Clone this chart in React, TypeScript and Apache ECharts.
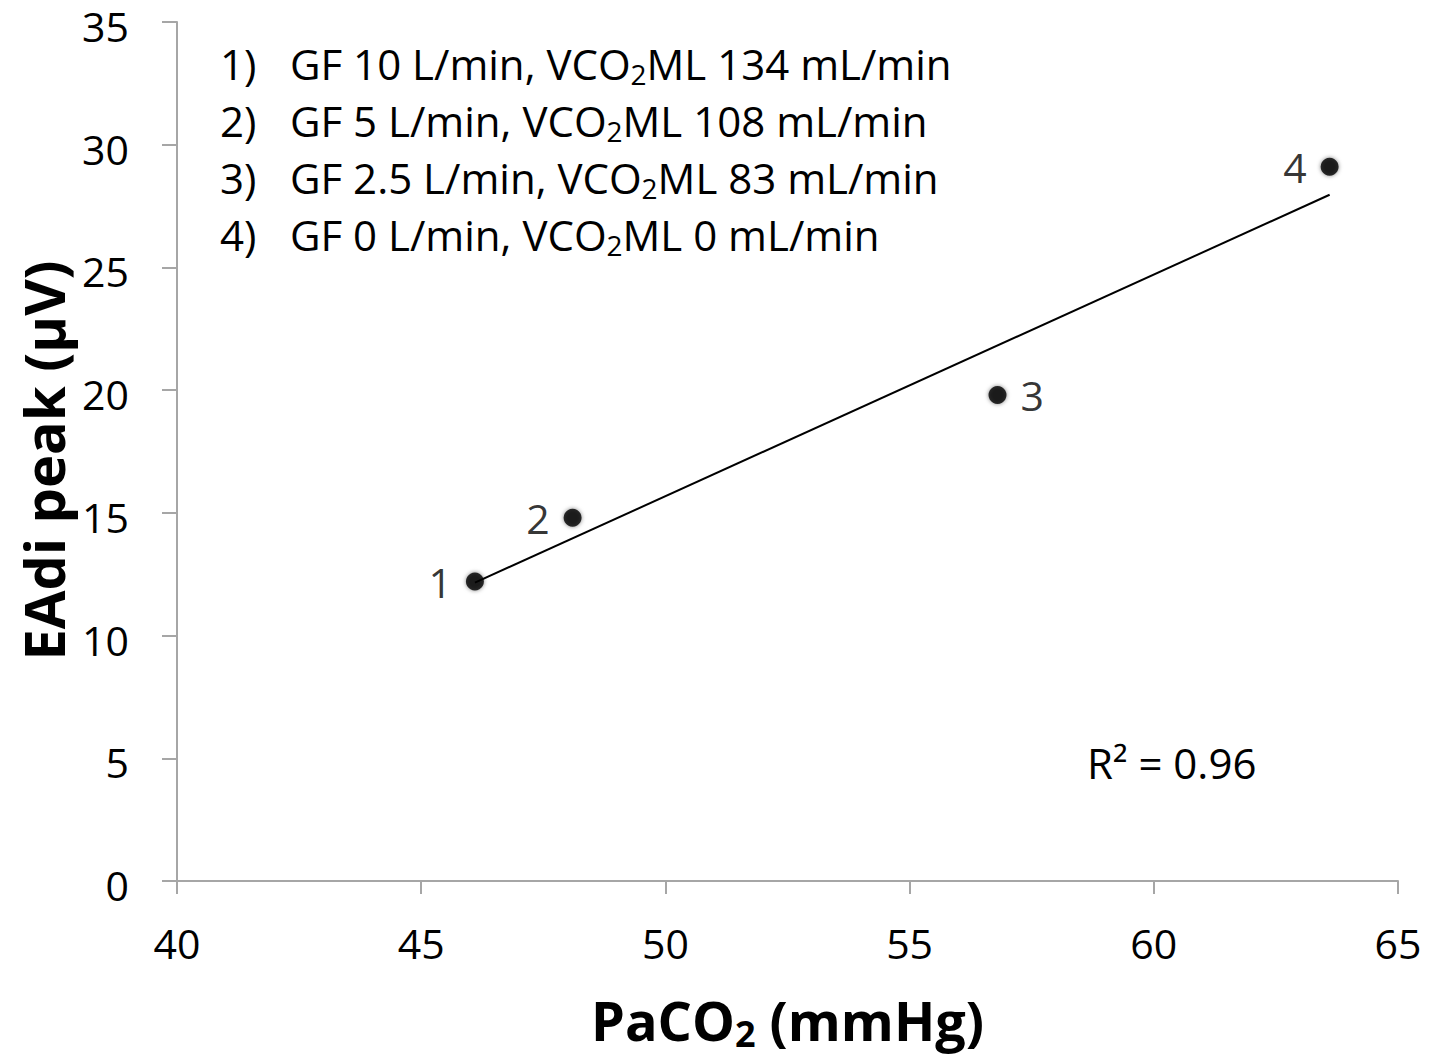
import React, { useEffect, useRef } from "react";
import * as echarts from "echarts";

const xValues = [46.1, 48.1, 56.8, 63.6];
const yValues = [12.2, 14.8, 19.8, 29.1];
const pointLabels = ["1", "2", "3", "4"];
const labelSides = ["left", "left", "right", "left"];
const legendNumbers = ["1)", "2)", "3)", "4)"];
const legendTexts = [
  "GF 10 L/min, VCO{sub|2}ML 134 mL/min",
  "GF 5 L/min, VCO{sub|2}ML 108 mL/min",
  "GF 2.5 L/min, VCO{sub|2}ML 83 mL/min",
  "GF 0 L/min, VCO{sub|2}ML 0 mL/min",
];
const r2Text = "R² = 0.96";
const xTicks = { min: 40, max: 65, interval: 5 };
const yTicks = { min: 0, max: 35, interval: 5 };

const FONT = "'Open Sans', sans-serif";

function linearFit(xs: number[], ys: number[]) {
  const n = xs.length;
  const mx = xs.reduce((a, b) => a + b, 0) / n;
  const my = ys.reduce((a, b) => a + b, 0) / n;
  let sxy = 0, sxx = 0;
  for (let i = 0; i < n; i++) {
    sxy += (xs[i] - mx) * (ys[i] - my);
    sxx += (xs[i] - mx) * (xs[i] - mx);
  }
  const slope = sxy / sxx;
  return { slope, intercept: my - slope * mx };
}

export default function App() {
  const ref = useRef<HTMLDivElement>(null);
  useEffect(() => {
    if (!ref.current) return;
    const chart = echarts.init(ref.current, null, { renderer: "svg" });
    const fit = linearFit(xValues, yValues);
    const xMin = Math.min(...xValues);
    const xMax = Math.max(...xValues);
    const trend = [
      [xMin, fit.intercept + fit.slope * xMin],
      [xMax, fit.intercept + fit.slope * xMax],
    ];
    const axisColor = "#a6a6a6";
    const legendGraphics: any[] = [];
    legendNumbers.forEach((num, i) => {
      const cy = 63 + i * 57;
      legendGraphics.push({
        type: "text",
        x: 220,
        y: cy,
        style: {
          text: num,
          font: `42px ${FONT}`,
          fill: "#000",
          verticalAlign: "middle",
        },
      });
      legendGraphics.push({
        type: "text",
        x: 290,
        y: cy,
        style: {
          text: legendTexts[i],
          font: `42px ${FONT}`,
          fill: "#000",
          verticalAlign: "middle",
          rich: {
            sub: { fontSize: 28, fontFamily: FONT, padding: [22, 0, 0, 0] },
          },
        },
      });
    });
    const option: any = {
      animation: false,
      backgroundColor: "#fff",
      grid: { left: 177, right: 31, top: 22, bottom: 176 },
      xAxis: {
        type: "value",
        min: xTicks.min,
        max: xTicks.max,
        interval: xTicks.interval,
        splitLine: { show: false },
        axisLine: { show: true, lineStyle: { color: axisColor, width: 2 } },
        axisTick: { show: true, length: 13, lineStyle: { color: axisColor, width: 2 } },
        axisLabel: { margin: 41, fontFamily: FONT, fontSize: 41, color: "#000" },
        name: "PaCO{sub|2} (mmHg)",
        nameLocation: "middle",
        nameGap: 108,
        nameTextStyle: {
          fontFamily: FONT,
          fontWeight: "bold",
          fontSize: 54,
          color: "#000",
          rich: {
            sub: { fontFamily: FONT, fontWeight: "bold", fontSize: 36, padding: [26, 0, 0, 0] },
          },
        },
      },
      yAxis: {
        type: "value",
        min: yTicks.min,
        max: yTicks.max,
        interval: yTicks.interval,
        splitLine: { show: false },
        axisLine: { show: true, lineStyle: { color: axisColor, width: 2 } },
        axisTick: { show: true, length: 15, lineStyle: { color: axisColor, width: 2 } },
        axisLabel: {
          margin: 48,
          fontFamily: FONT,
          fontSize: 41,
          lineHeight: 8,
          verticalAlign: "top",
          color: "#000",
        },
        name: "EAdi peak (μV)",
        nameLocation: "middle",
        nameGap: 97,
        nameTextStyle: {
          fontFamily: FONT,
          fontWeight: "bold",
          fontSize: 56,
          color: "#000",
          padding: [0, 18, 0, 0],
        },
      },
      series: [
        {
          type: "line",
          data: trend,
          symbol: "none",
          lineStyle: { color: "#000", width: 2 },
          silent: true,
          z: 2,
        },
        {
          type: "scatter",
          data: xValues.map((x, i) => ({
            value: [x, yValues[i]],
            label: {
              show: true,
              formatter: pointLabels[i],
              position: labelSides[i],
              distance: 14,
              fontFamily: FONT,
              fontSize: 41,
              color: "#000",
            },
          })),
          symbol: "circle",
          symbolSize: 18,
          itemStyle: {
            color: "#000",
            shadowBlur: 4,
            shadowColor: "rgba(0,0,0,0.6)",
          },
          z: 3,
        },
      ],
      graphic: [
        ...legendGraphics,
        {
          type: "text",
          x: 1087,
          y: 762,
          style: {
            text: r2Text,
            font: `42px ${FONT}`,
            fill: "#000",
            verticalAlign: "middle",
          },
        },
      ],
    };
    chart.setOption(option);
    return () => chart.dispose();
  }, []);
  return (
    <div
      ref={ref}
      style={{ position: "fixed", left: 0, top: 0, width: 1429, height: 1057, background: "#fff" }}
    />
  );
}
